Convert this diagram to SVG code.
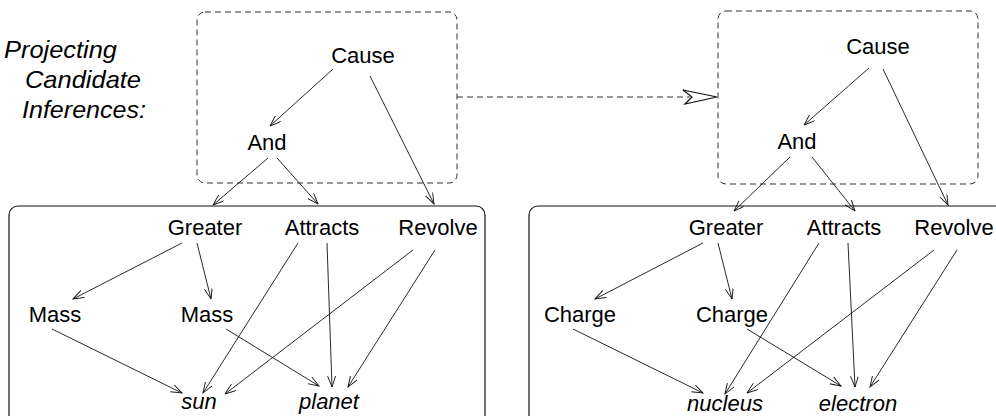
<svg xmlns="http://www.w3.org/2000/svg" width="996" height="416" viewBox="0 0 996 416">
<defs>
<style>
text{font-family:"Liberation Sans",Arial,sans-serif;font-size:22px;fill:#000;text-anchor:middle}
.it{font-style:italic}
.lab{font-style:italic;font-size:24px;text-anchor:start}
.dbox{fill:none;stroke:#333;stroke-width:1;stroke-dasharray:6,4}
.sbox{fill:none;stroke:#111;stroke-width:1.2}
.c{fill:none;stroke:#111;stroke-width:0.9;marker-end:url(#ah)}
</style>
<marker id="ah" markerUnits="userSpaceOnUse" markerWidth="12" markerHeight="10" refX="11" refY="4" orient="auto">
<path d="M0,0 L11,4 L0,8" fill="none" stroke="#111" stroke-width="0.9"/>
</marker>
</defs>
<rect width="996" height="416" fill="#fff"/>
<g id="label">
<text class="lab" x="4" y="58" textLength="113" lengthAdjust="spacingAndGlyphs">Projecting</text>
<text class="lab" x="25" y="88" textLength="116" lengthAdjust="spacingAndGlyphs">Candidate</text>
<text class="lab" x="22" y="118" textLength="124" lengthAdjust="spacingAndGlyphs">Inferences:</text>
</g>
<g id="boxes">
<rect id="left-ci-box" class="dbox" x="197" y="12" width="260" height="171" rx="8"/>
<rect id="right-ci-box" class="dbox" x="718" y="11" width="260" height="173" rx="8"/>
<rect id="left-base-box" class="sbox" x="9" y="206" width="476" height="230" rx="9"/>
<rect id="right-base-box" class="sbox" x="529" y="206" width="500" height="230" rx="9"/>
</g>
<g id="connectors">
<line x1="457" y1="97" x2="690" y2="97" fill="none" stroke="#333" stroke-width="1" stroke-dasharray="6,4"/>
<path d="M683,90 L717,97 L685,104 L692,97 Z" fill="#fff" stroke="#111" stroke-width="1.2" stroke-linejoin="miter"/>
<line class="c" x1="333" y1="69" x2="270" y2="126"/>
<line class="c" x1="370" y1="76" x2="434" y2="204"/>
<line class="c" x1="268" y1="158" x2="213" y2="205"/>
<line class="c" x1="277" y1="158" x2="318" y2="204"/>
<line class="c" x1="182" y1="243" x2="73" y2="299"/>
<line class="c" x1="197" y1="243" x2="211" y2="299"/>
<line class="c" x1="298" y1="243" x2="203" y2="393"/>
<line class="c" x1="327" y1="243" x2="332" y2="387"/>
<line class="c" x1="413" y1="250" x2="225" y2="394"/>
<line class="c" x1="435" y1="250" x2="348" y2="387"/>
<line class="c" x1="52" y1="329" x2="182" y2="393"/>
<line class="c" x1="226" y1="329" x2="319" y2="386"/>
<line class="c" x1="869" y1="68" x2="804" y2="125"/>
<line class="c" x1="883" y1="69" x2="948" y2="205"/>
<line class="c" x1="790" y1="157" x2="734" y2="211"/>
<line class="c" x1="812" y1="157" x2="855" y2="211"/>
<line class="c" x1="703" y1="243" x2="595" y2="299"/>
<line class="c" x1="718" y1="243" x2="732" y2="299"/>
<line class="c" x1="819" y1="243" x2="725" y2="394"/>
<line class="c" x1="848" y1="243" x2="855" y2="387"/>
<line class="c" x1="934" y1="250" x2="747" y2="393"/>
<line class="c" x1="957" y1="250" x2="870" y2="387"/>
<line class="c" x1="573" y1="329" x2="703" y2="393"/>
<line class="c" x1="747" y1="329" x2="841" y2="386"/>
</g>
<g id="n-cause-l"><text x="363" y="63">Cause</text></g>
<g id="n-and-l"><text x="267" y="150">And</text></g>
<g id="n-greater-l"><text x="205" y="235">Greater</text></g>
<g id="n-attracts-l"><text x="322" y="235">Attracts</text></g>
<g id="n-revolve-l"><text x="438" y="235">Revolve</text></g>
<g id="n-mass1-l"><text x="55" y="322">Mass</text></g>
<g id="n-mass2-l"><text x="207" y="322">Mass</text></g>
<g id="n-sun"><text class="it" x="199" y="409">sun</text></g>
<g id="n-planet"><text class="it" x="329" y="409">planet</text></g>
<g id="n-cause-r"><text x="878" y="54">Cause</text></g>
<g id="n-and-r"><text x="797" y="149">And</text></g>
<g id="n-greater-r"><text x="726" y="235">Greater</text></g>
<g id="n-attracts-r"><text x="844" y="235">Attracts</text></g>
<g id="n-revolve-r"><text x="954" y="235">Revolve</text></g>
<g id="n-charge1-r"><text x="580" y="322">Charge</text></g>
<g id="n-charge2-r"><text x="732" y="322">Charge</text></g>
<g id="n-nucleus"><text class="it" x="725" y="411">nucleus</text></g>
<g id="n-electron"><text class="it" x="858" y="411">electron</text></g>
</svg>
